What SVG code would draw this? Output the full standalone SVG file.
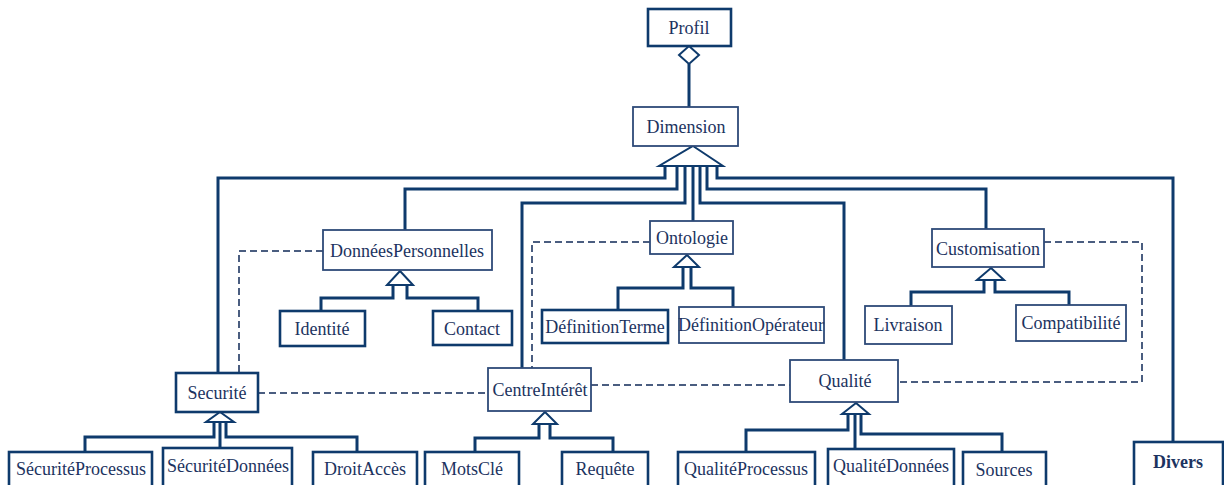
<svg xmlns="http://www.w3.org/2000/svg" width="1224" height="485" viewBox="0 0 1224 485">
<defs>
<style>
.box{fill:#fff;stroke:#0e3a6c;stroke-width:2.6}
.thin{fill:#fff;stroke:#2e4a78;stroke-width:1.8}
.lbl{font-family:"Liberation Serif","Times New Roman",serif;font-size:18px;fill:#1c3360;text-anchor:middle}
.con{fill:none;stroke:#0e3a6c;stroke-width:3}
.dash{fill:none;stroke:#4a5d80;stroke-width:2;stroke-dasharray:7 4}
.tri{fill:#fff;stroke:#0e3a6c;stroke-width:2;stroke-linejoin:miter}
</style>
</defs>
<rect width="1224" height="485" fill="#fff"/>
<g id="connectors">
<path class="con" d="M689,64 V107"/>
<path class="con" d="M665,166 V178 H218 V373"/>
<path class="con" d="M677,166 V189 H405 V230"/>
<path class="con" d="M685,166 V203 H522 V368"/>
<path class="con" d="M693,166 V221"/>
<path class="con" d="M700,166 V203 H844 V360"/>
<path class="con" d="M707,166 V189 H986 V229"/>
<path class="con" d="M717,166 V178 H1173 V442"/>
<path class="con" d="M393,285 V298 H321 V311 M407,285 V298 H478 V311"/>
<path class="con" d="M683,267 V288 H618 V310 M691,267 V288 H733 V307"/>
<path class="con" d="M984,280 V292 H911 V306 M995,280 V292 H1069 V305"/>
<path class="con" d="M214,422 V437 H85 V452 M220,422 V448 M226,422 V437 H357 V452"/>
<path class="con" d="M539,424 V438 H475 V452 M550,424 V438 H613 V452"/>
<path class="con" d="M848,414 V430 H746 V452 M855,414 V449 M861,414 V434 H1002 V452"/>
<path class="dash" d="M323,251 H239 V373"/>
<path class="dash" d="M650,242 H532 V368"/>
<path class="dash" d="M1044,242 H1142 V382 H898"/>
<path class="dash" d="M258,393 H488"/>
<path class="dash" d="M591,385 H790"/>
<polygon class="tri" points="689,46 699,55 689,64 679,55"/>
<polygon class="tri" points="693,146 723,166 659,166"/>
<polygon class="tri" points="400,271 413,285 387,285"/>
<polygon class="tri" points="687,255 699,267 674,267"/>
<polygon class="tri" points="991,268 1004,280 977,280"/>
<polygon class="tri" points="220,412 234,422 206,422"/>
<polygon class="tri" points="545,412 557,424 533,424"/>
<polygon class="tri" points="856,403 869,414 842,414"/>
</g>
<g id="Profil"><rect class="box" x="648" y="9" width="83" height="37"/><text class="lbl" x="689" y="34">Profil</text></g>
<g id="Dimension"><rect class="thin" x="633" y="107" width="105" height="39"/><text class="lbl" x="686" y="133">Dimension</text></g>
<g id="DonneesPersonnelles"><rect class="thin" x="323" y="230" width="169" height="40"/><text class="lbl" x="407" y="257">DonnéesPersonnelles</text></g>
<g id="Identite"><rect class="box" x="280" y="311" width="85" height="35"/><text class="lbl" x="322" y="335">Identité</text></g>
<g id="Contact"><rect class="box" x="433" y="311" width="79" height="34"/><text class="lbl" x="472" y="335">Contact</text></g>
<g id="Ontologie"><rect class="thin" x="650" y="221" width="83" height="33"/><text class="lbl" x="692" y="244">Ontologie</text></g>
<g id="DefinitionTerme"><rect class="box" x="542" y="310" width="126" height="33"/><text class="lbl" x="605" y="333">DéfinitionTerme</text></g>
<g id="DefinitionOperateur"><rect class="thin" x="679" y="307" width="145" height="36"/><text class="lbl" x="751" y="331">DéfinitionOpérateur</text></g>
<g id="Customisation"><rect class="thin" x="932" y="229" width="112" height="38"/><text class="lbl" x="988" y="255">Customisation</text></g>
<g id="Livraison"><rect class="thin" x="865" y="306" width="87" height="38"/><text class="lbl" x="908" y="331">Livraison</text></g>
<g id="Compatibilite"><rect class="thin" x="1016" y="305" width="110" height="36"/><text class="lbl" x="1071" y="329">Compatibilité</text></g>
<g id="Securite"><rect class="box" x="176" y="373" width="82" height="39"/><text class="lbl" x="217" y="399">Securité</text></g>
<g id="CentreInteret"><rect class="thin" x="488" y="368" width="103" height="43"/><text class="lbl" x="540" y="396">CentreIntérêt</text></g>
<g id="Qualite"><rect class="thin" x="790" y="360" width="108" height="42"/><text class="lbl" x="845" y="387">Qualité</text></g>
<g id="SecuriteProcessus"><rect class="box" x="9" y="452" width="143" height="40"/><text class="lbl" x="81" y="475">SécuritéProcessus</text></g>
<g id="SecuriteDonnees"><rect class="box" x="163" y="448" width="129" height="44"/><text class="lbl" x="228" y="472">SécuritéDonnées</text></g>
<g id="DroitAcces"><rect class="box" x="313" y="452" width="104" height="40"/><text class="lbl" x="365" y="475">DroitAccès</text></g>
<g id="MotsCle"><rect class="box" x="425" y="452" width="94" height="40"/><text class="lbl" x="472" y="475">MotsClé</text></g>
<g id="Requete"><rect class="box" x="562" y="452" width="86" height="40"/><text class="lbl" x="605" y="475">Requête</text></g>
<g id="QualiteProcessus"><rect class="box" x="678" y="452" width="137" height="40"/><text class="lbl" x="746" y="475">QualitéProcessus</text></g>
<g id="QualiteDonnees"><rect class="box" x="828" y="449" width="126" height="43"/><text class="lbl" x="891" y="472">QualitéDonnées</text></g>
<g id="Sources"><rect class="box" x="963" y="452" width="83" height="40"/><text class="lbl" x="1004" y="476">Sources</text></g>
<g id="Divers"><rect class="box" x="1134" y="442" width="89" height="50"/><text class="lbl" x="1178" y="468" font-weight="bold">Divers</text></g>
</svg>
